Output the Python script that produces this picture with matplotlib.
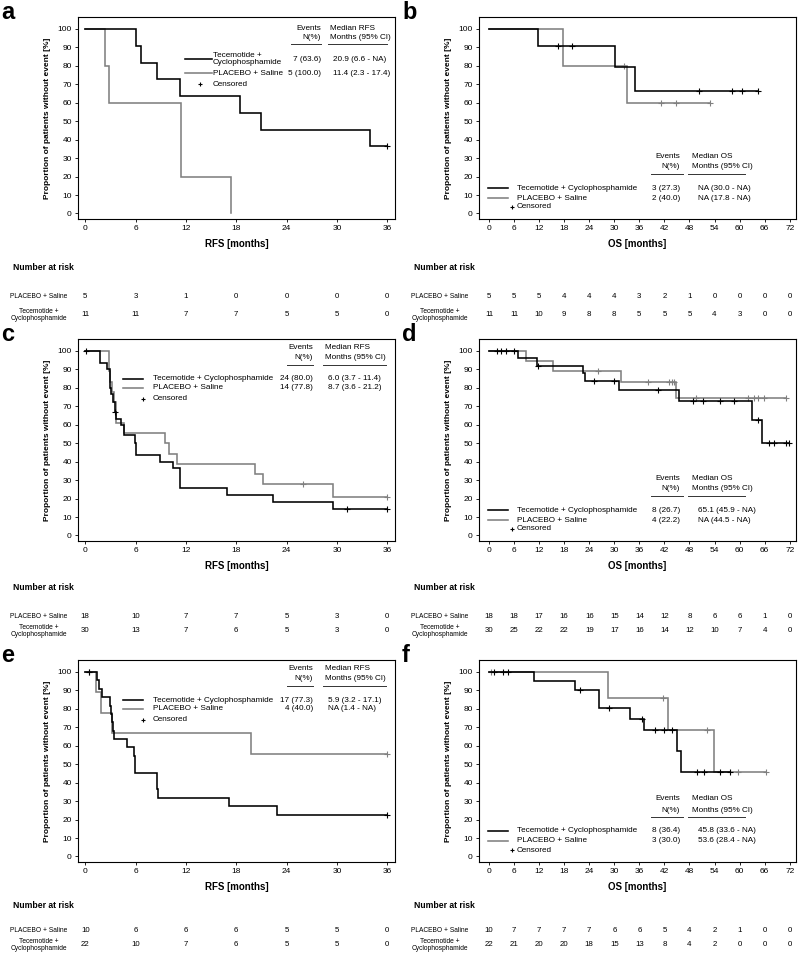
import numpy as np
import matplotlib
matplotlib.use('Agg')
import matplotlib.pyplot as plt

plt.rcParams['font.family'] = ['Liberation Sans', 'DejaVu Sans']

# ---------------- data ----------------
ticks_rfs = [0, 6, 12, 18, 24, 30, 36]
ticks_os = [0, 6, 12, 18, 24, 30, 36, 42, 48, 54, 60, 66, 72]

# a: RFS
a_tec_t = [0, 6.1, 6.6, 8.5, 11.3, 18.5, 20.9, 33.9, 36.0]
a_tec_s = [100, 90.9, 81.8, 72.7, 63.6, 54.5, 45.5, 36.4, 36.4]
a_tec_cens = [36.0]
a_pla_t = [0, 2.3, 2.8, 11.4, 17.4]
a_pla_s = [100, 80, 60, 20, 0]
a_pla_cens = []
a_risk_pla = [5, 3, 1, 0, 0, 0, 0]
a_risk_tec = [11, 11, 7, 7, 5, 5, 0]
a_events = ['7 (63.6)', '5 (100.0)']
a_median = ['20.9 (6.6 - NA)', '11.4 (2.3 - 17.4)']

# b: OS
b_tec_t = [0, 11.7, 30.2, 35.0, 64.5]
b_tec_s = [100, 90.9, 79.5, 66.3, 66.3]
b_tec_cens = [16.6, 19.8, 50.3, 58.1, 60.5, 64.5]
b_pla_t = [0, 17.8, 33.0, 52.9]
b_pla_s = [100, 80, 60, 60]
b_pla_cens = [32.4, 41.2, 44.7, 52.9]
b_risk_pla = [5, 5, 5, 4, 4, 4, 3, 2, 1, 0, 0, 0, 0]
b_risk_tec = [11, 11, 10, 9, 8, 8, 5, 5, 5, 4, 3, 0, 0]
b_events = ['3 (27.3)', '2 (40.0)']
b_median = ['NA (30.0 - NA)', 'NA (17.8 - NA)']

# c: RFS
c_tec_t = [0, 1.7, 2.6, 2.9, 3.0, 3.1, 3.3, 3.5, 3.7, 4.2, 4.6, 5.9, 6.0,
           8.9, 10.4, 11.3, 16.9, 22.4, 29.5, 36.0]
c_tec_s = [100, 93.3, 90.0, 86.7, 80.0, 76.7, 72.4, 66.7, 63.3, 60.0, 54.5, 50.0, 43.5,
           40.0, 36.5, 25.5, 21.8, 18.2, 14.6, 14.6]
c_tec_cens = [0.1, 3.6, 31.2, 36.0]
c_pla_t = [0, 2.8, 3.0, 3.2, 3.4, 3.7, 4.6, 9.5, 10.0, 10.9, 20.2, 21.2, 29.5, 36.0]
c_pla_s = [100, 88.9, 83.3, 77.8, 72.2, 61.1, 55.6, 50.0, 44.4, 38.9, 33.3, 27.8, 20.8, 20.8]
c_pla_cens = [26.0, 36.0]
c_risk_pla = [18, 10, 7, 7, 5, 3, 0]
c_risk_tec = [30, 13, 7, 6, 5, 3, 0]
c_events = ['24 (80.0)', '14 (77.8)']
c_median = ['6.0 (3.7 - 11.4)', '8.7 (3.6 - 21.2)']

# d: OS
d_tec_t = [0, 6.9, 11.5, 22.5, 22.9, 31.1, 45.5, 62.9, 65.4, 71.8]
d_tec_s = [100, 96.0, 91.9, 87.9, 83.8, 78.9, 72.8, 62.4, 49.9, 49.9]
d_tec_cens = [1.8, 2.9, 4.0, 5.9, 11.8, 25.2, 30.0, 40.4, 48.9, 51.3, 55.3, 58.7,
              64.3, 67.0, 68.2, 71.0, 71.8]
d_pla_t = [0, 8.9, 15.3, 31.6, 44.7, 71.0]
d_pla_s = [100, 94.4, 88.9, 83.0, 74.7, 74.7]
d_pla_cens = [26.0, 38.0, 43.2, 43.8, 44.3, 49.5, 61.9, 63.5, 64.5, 65.8, 71.0]
d_risk_pla = [18, 18, 17, 16, 16, 15, 14, 12, 8, 6, 6, 1, 0]
d_risk_tec = [30, 25, 22, 22, 19, 17, 16, 14, 12, 10, 7, 4, 0]
d_events = ['8 (26.7)', '4 (22.2)']
d_median = ['65.1 (45.9 - NA)', 'NA (44.5 - NA)']

# e: RFS
e_tec_t = [0, 1.4, 1.6, 2.0, 3.0, 3.1, 3.2, 3.3, 3.4, 5.0, 5.8, 5.9, 8.5, 8.6, 8.7,
           17.1, 22.8, 36.0]
e_tec_s = [100, 95.5, 90.9, 86.4, 81.8, 77.3, 72.7, 68.2, 63.6, 59.1, 54.5, 45.5,
           40.9, 36.4, 31.8, 27.3, 22.7, 22.7]
e_tec_cens = [0.4, 36.0]
e_pla_t = [0, 1.3, 1.9, 3.2, 19.7, 36.0]
e_pla_s = [100, 88.9, 77.8, 66.7, 55.6, 55.6]
e_pla_cens = [0.4, 36.0]
e_risk_pla = [10, 6, 6, 6, 5, 5, 0]
e_risk_tec = [22, 10, 7, 6, 5, 5, 0]
e_events = ['17 (77.3)', '4 (40.0)']
e_median = ['5.9 (3.2 - 17.1)', 'NA (1.4 - NA)']

# f: OS
f_tec_t = [0, 10.7, 20.6, 26.4, 33.8, 37.2, 45.0, 45.9, 57.6]
f_tec_s = [100, 95.2, 90.5, 80.4, 74.6, 68.5, 57.1, 45.7, 45.7]
f_tec_cens = [1.2, 3.3, 4.5, 21.7, 28.8, 36.6, 39.8, 41.8, 43.9, 49.9, 51.4, 55.3, 57.6]
f_pla_t = [0, 28.6, 42.8, 53.9, 66.2]
f_pla_s = [100, 85.7, 68.6, 45.7, 45.7]
f_pla_cens = [0.5, 41.6, 52.3, 59.5, 66.2]
f_risk_pla = [10, 7, 7, 7, 7, 6, 6, 5, 4, 2, 1, 0, 0]
f_risk_tec = [22, 21, 20, 20, 18, 15, 13, 8, 4, 2, 0, 0, 0]
f_events = ['8 (36.4)', '3 (30.0)']
f_median = ['45.8 (33.6 - NA)', '53.6 (28.4 - NA)']

# ---------------- layout ----------------
FW, FH = 800, 959
AW, AH = 317.0, 202.0
BLACK = '#000000'
GRAY = '#808080'

LEG_TOP_A = dict(h1=11, h2=20, hu=27, ev_r=243, ul_ev=(213, 243), med_l=252,
                 ul_med=(250, 309), sx=(107, 134), plus_x=122, text_x=135,
                 rows=[42, 56, 67], med_x=255)
LEG_TOP = dict(h1=8.5, h2=18.5, hu=25.5, ev_r=235, ul_ev=(209, 235), med_l=247,
               ul_med=(245, 308), sx=(45, 65), plus_x=65, text_x=75,
               rows=[40, 48.5, 59.5], med_x=250)
LEG_BOT = dict(h1=139, h2=150, hu=156.5, ev_r=201, ul_ev=(172, 204), med_l=213,
               ul_med=(209, 266), sx=(9, 29), plus_x=33, text_x=38,
               rows=[171, 181, 190], med_x=219)


def km(ax, t, s, cens, color):
    ax.step(t, s, where='post', color=color, lw=1.15, solid_joinstyle='miter')
    t = np.asarray(t)
    s = np.asarray(s)
    if len(cens):
        idx = np.searchsorted(t, cens, side='right') - 1
        ax.plot(cens, s[idx], ls='none', marker='+', ms=4, mew=0.8, color=color)


def legend(ax, lay, tec_label, events, medians, endpoint):
    def p(x, y):
        return x / AW, 1 - y / AH
    kw = dict(transform=ax.transAxes, fontsize=5.9, va='center', clip_on=False)
    ax.text(*p(lay['ev_r'], lay['h1']), 'Events', ha='right', **kw)
    ax.text(*p(lay['ev_r'], lay['h2']), 'N(%)', ha='right', **kw)
    ax.text(*p(lay['med_l'], lay['h1']), 'Median ' + endpoint, ha='left', **kw)
    ax.text(*p(lay['med_l'], lay['h2']), 'Months (95% CI)', ha='left', **kw)
    for x0, x1 in (lay['ul_ev'], lay['ul_med']):
        ax.plot([x0 / AW, x1 / AW], [1 - lay['hu'] / AH] * 2, transform=ax.transAxes,
                color='#333333', lw=0.7, clip_on=False)
    labels = [tec_label, 'PLACEBO + Saline']
    for i, (col, lab) in enumerate(zip([BLACK, GRAY], labels)):
        y = lay['rows'][i]
        ax.plot([lay['sx'][0] / AW, lay['sx'][1] / AW], [1 - y / AH] * 2,
                transform=ax.transAxes, color=col, lw=1.15, clip_on=False)
        ax.text(*p(lay['text_x'], y), lab, ha='left', linespacing=1.0, **kw)
        ax.text(*p(lay['ev_r'], y), events[i], ha='right', **kw)
        ax.text(*p(lay['med_x'], y), medians[i], ha='left', **kw)
    y = lay['rows'][2]
    ax.plot([lay['plus_x'] / AW], [1 - y / AH], transform=ax.transAxes, marker='+',
            ms=3.5, mew=0.8, color=BLACK, clip_on=False)
    ax.text(*p(lay['text_x'], y), 'Censored', ha='left', **kw)


def risk(ax, ticks, pla, tec, offs):
    y_nar, y_pla, y_tec = [-o / AH for o in offs]
    tr = ax.get_xaxis_transform()
    ax.text(-0.206, y_nar, 'Number at risk', transform=ax.transAxes, fontsize=6.2,
            fontweight='bold', ha='left', va='center')
    ax.text(-0.033, y_pla, 'PLACEBO + Saline', transform=ax.transAxes, fontsize=4.8,
            ha='right', va='center')
    ax.text(-0.033, y_tec, 'Tecemotide +\nCyclophosphamide', transform=ax.transAxes,
            fontsize=4.8, ha='right', va='center', multialignment='center', linespacing=1.1)
    for x, n in zip(ticks, pla):
        ax.text(x, y_pla, str(n), transform=tr, fontsize=5.7, ha='center', va='center')
    for x, n in zip(ticks, tec):
        ax.text(x, y_tec, str(n), transform=tr, fontsize=5.7, ha='center', va='center')


def panel(fig, x0, top, letter, ticks, xlab, tec, pla, risk_pla, risk_tec,
          events, medians, lay, tec_label, endpoint, risk_offs):
    ax = fig.add_axes([x0 / FW, 1 - (top + AH) / FH, AW / FW, AH / FH])
    km(ax, *pla, GRAY)
    km(ax, *tec, BLACK)
    if ticks[-1] == 36:
        ax.set_xlim(-0.87, 36.92)
    else:
        ax.set_xlim(-2.4, 73.5)
    ax.set_ylim(-3, 106.5)
    ax.set_xticks(ticks)
    ax.set_yticks(range(0, 101, 10))
    ax.tick_params(direction='out', length=2.5, width=0.6, labelsize=6, pad=2)
    for sp in ax.spines.values():
        sp.set_linewidth(0.8)
    ax.set_ylabel('Proportion of patients without event [%]', fontsize=6,
                  fontweight='bold')
    ax.yaxis.set_label_coords(-0.085, 0.5)
    ax.set_xlabel(xlab, fontsize=7, fontweight='bold')
    ax.xaxis.set_label_coords(0.5, -0.1)
    legend(ax, lay, tec_label, events, medians, endpoint)
    risk(ax, ticks, risk_pla, risk_tec, risk_offs)
    fig.text((x0 - 77) / FW, 1 - (top + 2) / FH, letter, fontsize=17,
             fontweight='bold', va='baseline')
    return ax


fig = plt.figure(figsize=(8, 9.59), dpi=100)

LX, RX = 78, 479
TOPS = [17, 339, 660]
OFFS = [(49, 78, 96), (47, 76, 90), (43, 69, 83)]

panel(fig, LX, TOPS[0], 'a', ticks_rfs, 'RFS [months]',
      (a_tec_t, a_tec_s, a_tec_cens), (a_pla_t, a_pla_s, a_pla_cens),
      a_risk_pla, a_risk_tec, a_events, a_median, LEG_TOP_A,
      'Tecemotide +\nCyclophosphamide', 'RFS', OFFS[0])
panel(fig, RX, TOPS[0], 'b', ticks_os, 'OS [months]',
      (b_tec_t, b_tec_s, b_tec_cens), (b_pla_t, b_pla_s, b_pla_cens),
      b_risk_pla, b_risk_tec, b_events, b_median, LEG_BOT,
      'Tecemotide + Cyclophosphamide', 'OS', OFFS[0])
panel(fig, LX, TOPS[1], 'c', ticks_rfs, 'RFS [months]',
      (c_tec_t, c_tec_s, c_tec_cens), (c_pla_t, c_pla_s, c_pla_cens),
      c_risk_pla, c_risk_tec, c_events, c_median, LEG_TOP,
      'Tecemotide + Cyclophosphamide', 'RFS', OFFS[1])
panel(fig, RX, TOPS[1], 'd', ticks_os, 'OS [months]',
      (d_tec_t, d_tec_s, d_tec_cens), (d_pla_t, d_pla_s, d_pla_cens),
      d_risk_pla, d_risk_tec, d_events, d_median, LEG_BOT,
      'Tecemotide + Cyclophosphamide', 'OS', OFFS[1])
panel(fig, LX, TOPS[2], 'e', ticks_rfs, 'RFS [months]',
      (e_tec_t, e_tec_s, e_tec_cens), (e_pla_t, e_pla_s, e_pla_cens),
      e_risk_pla, e_risk_tec, e_events, e_median, LEG_TOP,
      'Tecemotide + Cyclophosphamide', 'RFS', OFFS[2])
panel(fig, RX, TOPS[2], 'f', ticks_os, 'OS [months]',
      (f_tec_t, f_tec_s, f_tec_cens), (f_pla_t, f_pla_s, f_pla_cens),
      f_risk_pla, f_risk_tec, f_events, f_median, LEG_BOT,
      'Tecemotide + Cyclophosphamide', 'OS', OFFS[2])

fig.savefig('out.png', dpi=100)
